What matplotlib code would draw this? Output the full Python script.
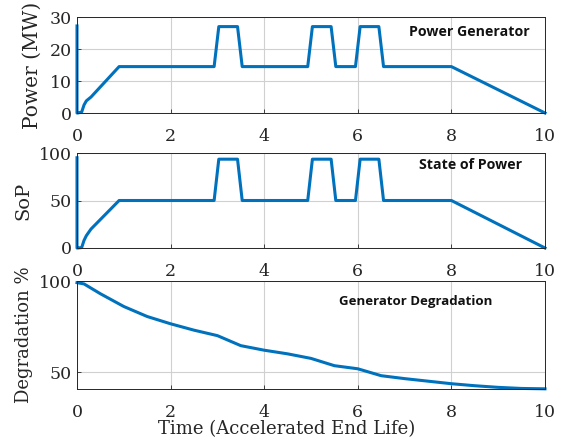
import matplotlib
matplotlib.use("Agg")
import matplotlib.pyplot as plt

# ---- data ----
t_power = [0, 0, 0.02, 0.1, 0.15, 0.2, 0.3, 0.9, 2.93, 3.03, 3.43, 3.53,
           4.93, 5.03, 5.43, 5.53, 5.95, 6.05, 6.45, 6.55, 8.0, 10.0]
power = [27.2, 0, 0, 0.3, 2.5, 3.8, 5.0, 14.5, 14.5, 27, 27, 14.5,
         14.5, 27, 27, 14.5, 14.5, 27, 27, 14.5, 14.5, 0]

t_sop = [0, 0, 0.02, 0.1, 0.15, 0.2, 0.3, 0.9, 2.93, 3.03, 3.43, 3.53,
         4.93, 5.03, 5.43, 5.53, 5.95, 6.05, 6.45, 6.55, 8.0, 10.0]
sop = [95, 0, 0, 0.5, 8, 13, 20, 50, 50, 93.5, 93.5, 50,
       50, 93.5, 93.5, 50, 50, 93.5, 93.5, 50, 50, 0]

t_deg = [0, 0.15, 0.5, 1, 1.5, 2, 2.5, 3, 3.5, 4, 4.5, 5, 5.5, 6, 6.5,
         7, 7.5, 8, 8.5, 9, 9.5, 10]
deg = [99.1, 98.4, 93, 86, 80.5, 76.5, 73, 70, 64.5, 62, 60, 57.5, 53.5,
       51.8, 48, 46.4, 45, 43.6, 42.5, 41.6, 41, 40.8]

x_ticks = [0, 2, 4, 6, 8, 10]
power_ticks = [0, 10, 20, 30]
sop_ticks = [0, 50, 100]
deg_ticks = [50, 100]

# ---- style ----
blue = "#0072BD"
serif = "DejaVu Serif"
fig = plt.figure(figsize=(5.68, 4.42), dpi=100)

W, H = 568, 442
def rect(l, r, t, b):
    return [l / W, 1 - b / H, (r - l) / W, (b - t) / H]

ax1 = fig.add_axes(rect(77, 545, 17, 113))
ax2 = fig.add_axes(rect(77, 545, 153, 248))
ax3 = fig.add_axes(rect(77, 545, 281, 389))

def style(ax):
    ax.grid(True, color="#d0d0d0", linewidth=0.8)
    ax.set_axisbelow(True)
    for s in ax.spines.values():
        s.set_color("#262626")
        s.set_linewidth(0.7)
    ax.set_xlim(0, 10)
    ax.set_xticks(x_ticks)
    ax.tick_params(direction="in", length=3, width=0.6, colors="#262626",
                   labelsize=12.5)
    ax.tick_params(axis="x", pad=11)
    ax.tick_params(axis="y", pad=4)
    for lab in ax.get_xticklabels() + ax.get_yticklabels():
        lab.set_fontfamily(serif)

lab_kw = dict(fontfamily=serif, color="#262626")
txt_kw = dict(ha="right", va="center", fontweight="bold",
              family="Open Sans", color="#111111")

ax1.plot(t_power, power, color=blue, linewidth=2.2, clip_on=False)
ax1.set_ylim(0, 30)
ax1.set_yticks(power_ticks)
style(ax1)
ax1.set_ylabel("Power (MW)", fontsize=14.5, **lab_kw)
ax1.yaxis.set_label_coords(-0.075, 0.5)
ax1.text(0.968, 0.844, "Power Generator", transform=ax1.transAxes,
         fontsize=10.2, **txt_kw)

ax2.plot(t_sop, sop, color=blue, linewidth=2.2, clip_on=False)
ax2.set_ylim(0, 100)
ax2.set_yticks(sop_ticks)
style(ax2)
ax2.set_ylabel("SoP", fontsize=14, **lab_kw)
ax2.yaxis.set_label_coords(-0.095, 0.5)
ax2.text(0.951, 0.874, "State of Power", transform=ax2.transAxes,
         fontsize=10.2, **txt_kw)

ax3.plot(t_deg, deg, color=blue, linewidth=2.2, clip_on=False)
ax3.set_ylim(40.7, 100)
ax3.set_yticks(deg_ticks)
style(ax3)
ax3.set_ylabel("Degradation %", fontsize=13, **lab_kw)
ax3.yaxis.set_label_coords(-0.095, 0.5)
ax3.set_xlabel("Time (Accelerated End Life)", fontsize=13, **lab_kw)
ax3.xaxis.set_label_coords(0.447, -0.29)
ax3.text(0.887, 0.806, "Generator Degradation", transform=ax3.transAxes,
         fontsize=9.5, **txt_kw)

fig.savefig("out.png", dpi=100)
